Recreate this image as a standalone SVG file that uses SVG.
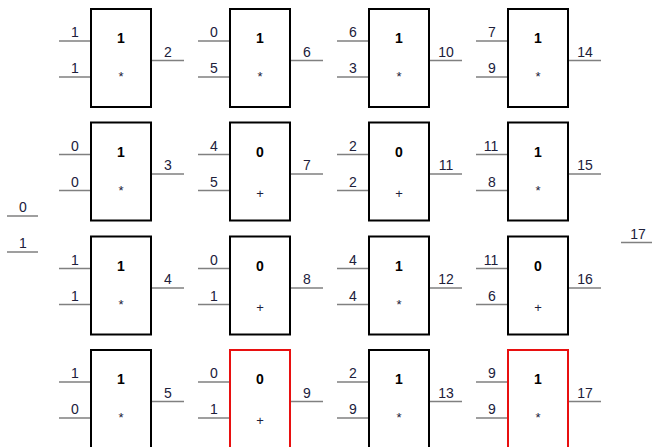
<svg xmlns="http://www.w3.org/2000/svg" width="652" height="447" viewBox="0 0 652 447">
<style>
.box{fill:#fff;stroke:#000;stroke-width:2}
.red{stroke:#e81010}
.ln{stroke:#808080;stroke-width:1.5;fill:none}
.lb{font-family:"Liberation Sans",Arial,sans-serif;font-size:14px;fill:#20203a;text-anchor:middle}
.v{font-family:"Liberation Sans",Arial,sans-serif;font-size:14px;font-weight:bold;fill:#000;text-anchor:middle}
.op{font-family:"Liberation Sans",Arial,sans-serif;font-size:13px;fill:#20203a;text-anchor:middle}
</style>
<rect width="652" height="447" fill="#fff"/>
<g id="connectors">
<path class="ln" d="M59 41H90M59 77H90M152 60.5H184"/>
<path class="ln" d="M198 41H229M198 77H229M291 60.5H323"/>
<path class="ln" d="M337 41H368M337 77H368M430 60.5H462"/>
<path class="ln" d="M476 41H507M476 77H507M569 60.5H601"/>
<path class="ln" d="M59 154.5H90M59 190.5H90M152 174H184"/>
<path class="ln" d="M198 154.5H229M198 190.5H229M291 174H323"/>
<path class="ln" d="M337 154.5H368M337 190.5H368M430 174H462"/>
<path class="ln" d="M476 154.5H507M476 190.5H507M569 174H601"/>
<path class="ln" d="M59 268.5H90M59 304.5H90M152 288H184"/>
<path class="ln" d="M198 268.5H229M198 304.5H229M291 288H323"/>
<path class="ln" d="M337 268.5H368M337 304.5H368M430 288H462"/>
<path class="ln" d="M476 268.5H507M476 304.5H507M569 288H601"/>
<path class="ln" d="M59 382H90M59 418H90M152 401.5H184"/>
<path class="ln" d="M198 382H229M198 418H229M291 401.5H323"/>
<path class="ln" d="M337 382H368M337 418H368M430 401.5H462"/>
<path class="ln" d="M476 382H507M476 418H507M569 401.5H601"/>
<path class="ln" d="M7 216H38M7 252H38M621 242.5H652"/>
<text class="lb" x="23" y="212">0</text>
<text class="lb" x="23" y="248">1</text>
<text class="lb" x="638" y="238.5">17</text>
<text class="lb" x="75" y="37">1</text><text class="lb" x="75" y="73">1</text><text class="lb" x="168" y="56.5">2</text>
<text class="lb" x="214" y="37">0</text><text class="lb" x="214" y="73">5</text><text class="lb" x="307" y="56.5">6</text>
<text class="lb" x="353" y="37">6</text><text class="lb" x="353" y="73">3</text><text class="lb" x="446" y="56.5">10</text>
<text class="lb" x="492" y="37">7</text><text class="lb" x="492" y="73">9</text><text class="lb" x="585" y="56.5">14</text>
<text class="lb" x="75" y="150.5">0</text><text class="lb" x="75" y="186.5">0</text><text class="lb" x="168" y="170">3</text>
<text class="lb" x="214" y="150.5">4</text><text class="lb" x="214" y="186.5">5</text><text class="lb" x="307" y="170">7</text>
<text class="lb" x="353" y="150.5">2</text><text class="lb" x="353" y="186.5">2</text><text class="lb" x="446" y="170">11</text>
<text class="lb" x="491" y="150.5">11</text><text class="lb" x="492" y="186.5">8</text><text class="lb" x="585" y="170">15</text>
<text class="lb" x="75" y="264.5">1</text><text class="lb" x="75" y="300.5">1</text><text class="lb" x="168" y="284">4</text>
<text class="lb" x="214" y="264.5">0</text><text class="lb" x="214" y="300.5">1</text><text class="lb" x="307" y="284">8</text>
<text class="lb" x="353" y="264.5">4</text><text class="lb" x="353" y="300.5">4</text><text class="lb" x="446" y="284">12</text>
<text class="lb" x="491" y="264.5">11</text><text class="lb" x="492" y="300.5">6</text><text class="lb" x="585" y="284">16</text>
<text class="lb" x="75" y="378">1</text><text class="lb" x="75" y="414">0</text><text class="lb" x="168" y="397.5">5</text>
<text class="lb" x="214" y="378">0</text><text class="lb" x="214" y="414">1</text><text class="lb" x="307" y="397.5">9</text>
<text class="lb" x="353" y="378">2</text><text class="lb" x="353" y="414">9</text><text class="lb" x="446" y="397.5">13</text>
<text class="lb" x="492" y="378">9</text><text class="lb" x="492" y="414">9</text><text class="lb" x="585" y="397.5">17</text>
</g>
<g id="n2"><rect class="box" x="91" y="9" width="60" height="98"/><text class="v" x="121" y="43">1</text><text class="op" x="121" y="81">*</text></g>
<g id="n6"><rect class="box" x="230" y="9" width="60" height="98"/><text class="v" x="260" y="43">1</text><text class="op" x="260" y="81">*</text></g>
<g id="n10"><rect class="box" x="369" y="9" width="60" height="98"/><text class="v" x="399" y="43">1</text><text class="op" x="399" y="81">*</text></g>
<g id="n14"><rect class="box" x="508" y="9" width="60" height="98"/><text class="v" x="538" y="43">1</text><text class="op" x="538" y="81">*</text></g>
<g id="n3"><rect class="box" x="91" y="122.5" width="60" height="98"/><text class="v" x="121" y="156.5">1</text><text class="op" x="121" y="194.5">*</text></g>
<g id="n7"><rect class="box" x="230" y="122.5" width="60" height="98"/><text class="v" x="260" y="156.5">0</text><text class="op" x="260" y="197.5">+</text></g>
<g id="n11"><rect class="box" x="369" y="122.5" width="60" height="98"/><text class="v" x="399" y="156.5">0</text><text class="op" x="399" y="197.5">+</text></g>
<g id="n15"><rect class="box" x="508" y="122.5" width="60" height="98"/><text class="v" x="538" y="156.5">1</text><text class="op" x="538" y="194.5">*</text></g>
<g id="n4"><rect class="box" x="91" y="236.5" width="60" height="98"/><text class="v" x="121" y="270.5">1</text><text class="op" x="121" y="308.5">*</text></g>
<g id="n8"><rect class="box" x="230" y="236.5" width="60" height="98"/><text class="v" x="260" y="270.5">0</text><text class="op" x="260" y="311.5">+</text></g>
<g id="n12"><rect class="box" x="369" y="236.5" width="60" height="98"/><text class="v" x="399" y="270.5">1</text><text class="op" x="399" y="308.5">*</text></g>
<g id="n16"><rect class="box" x="508" y="236.5" width="60" height="98"/><text class="v" x="538" y="270.5">0</text><text class="op" x="538" y="311.5">+</text></g>
<g id="n5"><rect class="box" x="91" y="350" width="60" height="98"/><text class="v" x="121" y="384">1</text><text class="op" x="121" y="422">*</text></g>
<g id="n9"><rect class="box red" x="230" y="350" width="60" height="98"/><text class="v" x="260" y="384">0</text><text class="op" x="260" y="425">+</text></g>
<g id="n13"><rect class="box" x="369" y="350" width="60" height="98"/><text class="v" x="399" y="384">1</text><text class="op" x="399" y="422">*</text></g>
<g id="n17"><rect class="box red" x="508" y="350" width="60" height="98"/><text class="v" x="538" y="384">1</text><text class="op" x="538" y="422">*</text></g>
</svg>
